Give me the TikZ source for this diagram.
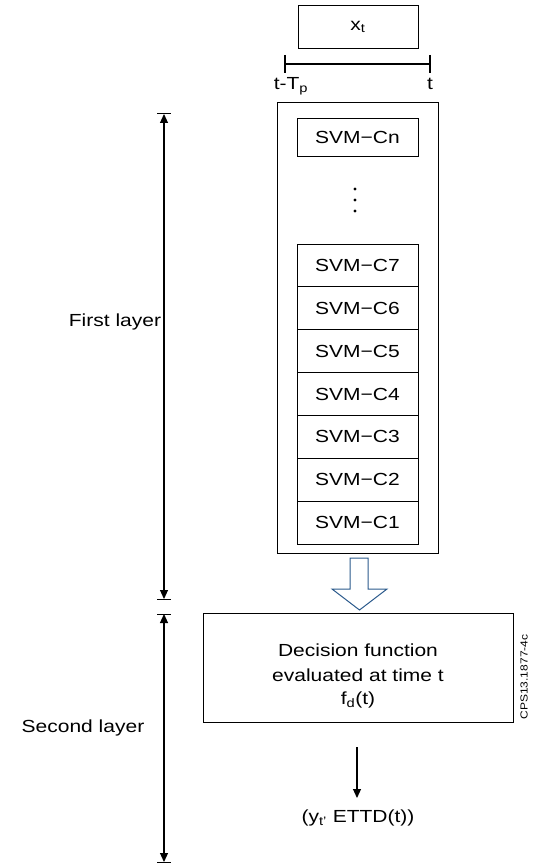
\documentclass[tikz,border=0pt]{standalone}
\usepackage{fontspec}
\setmainfont{Liberation Sans}
\usetikzlibrary{arrows.meta}
\newcommand{\hs}[1]{\scalebox{1.2}[1]{#1}}
\definecolor{arrowblue}{HTML}{2B5A8C}
\tikzset{
  box/.style={draw=black, line width=0.9pt},
  lbl/.style={font=\fontsize{17.5}{21}\selectfont, inner sep=0pt},
  small/.style={font=\fontsize{12}{14}\selectfont, inner sep=0pt},
  dimline/.style={line width=1.1pt, -{Triangle[length=9pt,width=8pt]}},
  barline/.style={line width=1pt},
  flow/.style={line width=1.1pt, -{Triangle[length=9pt,width=8pt]}},
}
\begin{document}
\begin{tikzpicture}[x=1pt,y=-1pt]
\useasboundingbox (0,0) rectangle (532,866);
% input box
\draw[box] (298,5) rectangle (418,48);
\node[lbl] (xt) at (358,27) {\hs{x\textsubscript{t}}};
% timeline
\coordinate (tl) at (285,64);
\coordinate (tr) at (430,64);
\draw[line width=1.2pt] (tl) -- (tr);
\draw[line width=1.2pt] (285,55) -- (285,73);
\draw[line width=1.2pt] (430,55) -- (430,73);
\node[lbl] (tp) at (291,86) {\hs{t-T\textsubscript{p}}};
\node[lbl] (tt) at (430,84) {\hs{t}};
% outer box
\draw[box] (277,102) rectangle (438,553);
% SVM-Cn
\draw[box] (297,118) rectangle (418,156);
\node[lbl] (cn) at (357.5,137) {\hs{SVM−Cn}};
\foreach \yy in {189,200,211} \fill (355,\yy) circle (1.7);
% stack
\foreach \i/\lab in {0/7,1/6,2/5,3/4,4/3,5/2,6/1}{
  \pgfmathsetmacro{\ytop}{244+\i*300/7}
  \pgfmathsetmacro{\ybot}{244+(\i+1)*300/7}
  \draw[box] (297,\ytop) rectangle (418,\ybot);
  \node[lbl] (c\lab) at (357.5,{(\ytop+\ybot)/2}) {\hs{SVM−C\lab}};
}
% hollow arrow
\draw[arrowblue, line width=1pt, fill=white, line join=miter]
  (350,558) -- (368,558) -- (368,589) -- (387,589) -- (359.5,610)
  -- (332,589) -- (350,589) -- cycle;
% decision box
\draw[box] (203,613) rectangle (513,722);
\node[lbl] (d1) at (358,650) {\hs{Decision function}};
\node[lbl] (d2) at (358,675) {\hs{evaluated at time t}};
\node[lbl] (d3) at (358,700) {\hs{f\textsubscript{d}(t)}};
\node[small, rotate=90] (cps) at (524,677) {\scalebox{1}[0.85]{CPS13.1877-4c}};
% output
\coordinate (os) at (357,747);
\node[lbl] (out) at (358,818) {\hs{(y\textsubscript{t'} ETTD(t))}};
\draw[flow] (os) -- (357,798);
% dimension lines
\coordinate (f1) at (164,114);
\coordinate (f2) at (164,599);
\coordinate (s1) at (164,614);
\coordinate (s2) at (164,862);
\draw[dimline] (164,356) -- (f1);
\draw[dimline] (164,356) -- (f2);
\draw[dimline] (164,738) -- (s1);
\draw[dimline] (164,738) -- (s2);
\draw[barline] (157,114) -- (171,114);
\draw[barline] (157,599) -- (171,599);
\draw[barline] (157,614) -- (171,614);
\draw[barline] (157,862) -- (171,862);
\node[lbl] (fl) at (115,322) {\hs{First layer}};
\node[lbl] (sl) at (83,728) {\hs{Second layer}};
\end{tikzpicture}
\end{document}
